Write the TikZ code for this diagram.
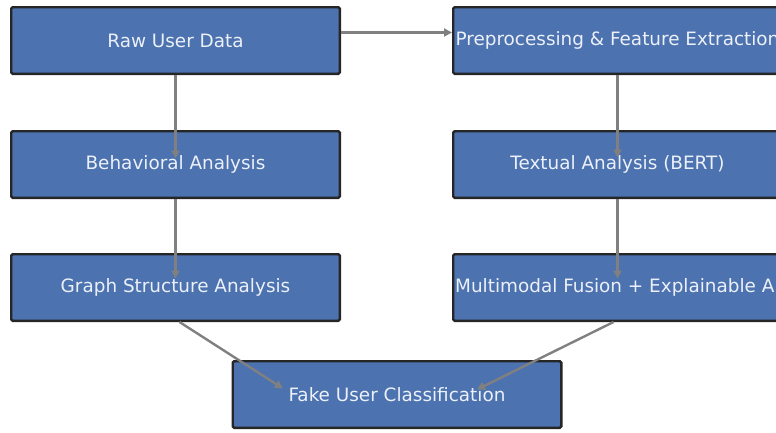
\documentclass[tikz,border=0pt]{standalone}
\usepackage{fontspec}
\setmainfont{DejaVu Sans}
\usetikzlibrary{arrows.meta,calc}
\definecolor{boxblue}{RGB}{76,114,176}
\definecolor{linegray}{RGB}{128,128,128}
\definecolor{textwhite}{RGB}{236,240,248}
\begin{document}
\begin{tikzpicture}[x=1pt,y=-1pt,
  procbox/.style={draw=black!85,line width=2.4pt,fill=boxblue,rounded corners=1.5pt,
    minimum width=328.6pt,minimum height=66.6pt,inner sep=0pt,
    text=textwhite,font=\fontsize{18.4}{20}\selectfont},
  conn/.style={draw=linegray,line width=2.4pt,-{Triangle[length=8pt,width=8pt]}}]
\useasboundingbox (0,0) rectangle (776,432);
\clip (0,0) rectangle (776,432);
\node[procbox] (raw) at (175.5,40.5) {Raw User Data};
\node[procbox] (pre) at (617.5,40.5) {Preprocessing \& Feature Extraction};
\node[procbox] (beh) at (175.5,164.5) {Behavioral Analysis};
\node[procbox] (tex) at (617.5,164.5) {Textual Analysis (BERT)};
\node[procbox] (gra) at (175.5,287.5) {Graph Structure Analysis};
\node[procbox] (mul) at (617.5,287.5) {Multimodal Fusion + Explainable AI};
\node[procbox] (fake) at (397,394.5) {Fake User Classification};
\coordinate (rawR) at ($(raw.east)+(0,-8)$);
\coordinate (preL) at ($(pre.west)+(0,-8)$);
\coordinate (behT) at ($(beh.center)+(0,-6)$);
\coordinate (texT) at ($(tex.center)+(0,-7)$);
\coordinate (graT) at ($(gra.center)+(0,-9)$);
\coordinate (mulT) at ($(mul.center)+(0,-9)$);
\coordinate (graS) at ($(gra.south)+(4,0)$);
\coordinate (mulS) at ($(mul.south)+(-4,0)$);
\coordinate (fakeL) at ($(fake.center)+(-114,-6)$);
\coordinate (fakeR) at ($(fake.center)+(80,-5)$);
\draw[conn] (rawR) -- (preL);
\draw[conn] (raw.south) -- (behT);
\draw[conn] (pre.south) -- (texT);
\draw[conn] (beh.south) -- (graT);
\draw[conn] (tex.south) -- (mulT);
\draw[conn] (graS) -- (fakeL);
\draw[conn] (mulS) -- (fakeR);
\end{tikzpicture}
\end{document}
